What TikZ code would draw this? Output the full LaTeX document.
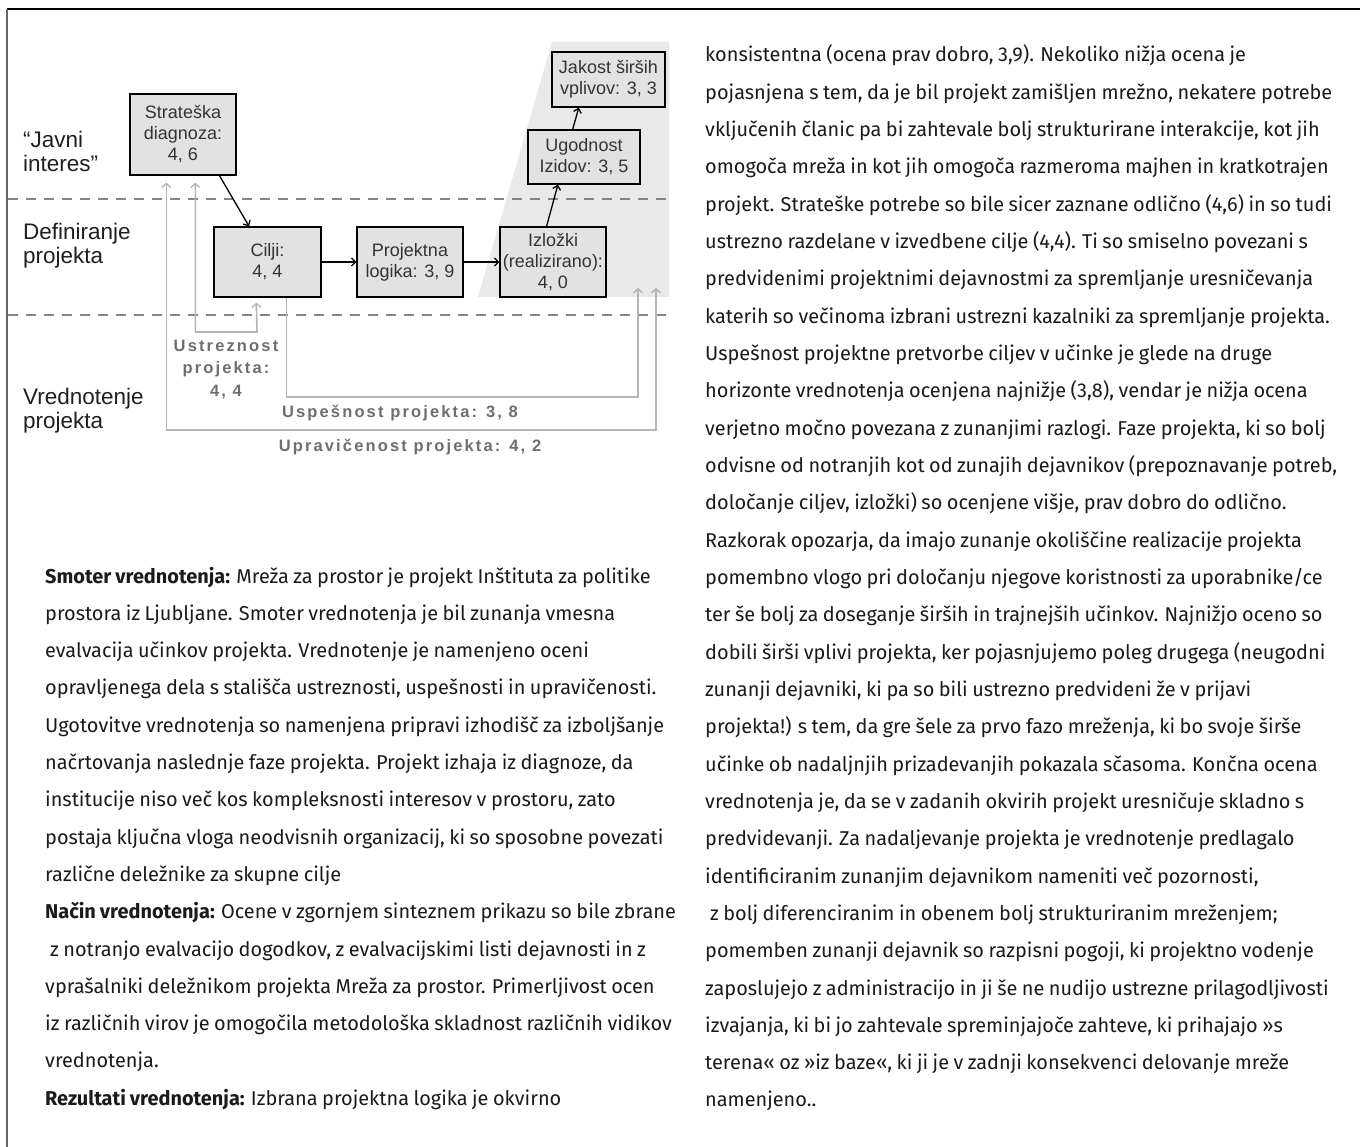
\documentclass[tikz,border=0pt]{standalone}
\usepackage{fontspec}
\usepackage{graphicx}
\setmainfont{Liberation Sans}
\newfontfamily\bodyfont[WordSpace=0.85]{Fira Sans}
\newfontfamily\trackfont[LetterSpace=13]{Liberation Sans}
\usetikzlibrary{arrows.meta,calc}

\definecolor{boxfill}{HTML}{E2E2E2}
\definecolor{zonefill}{HTML}{E9E9E9}
\definecolor{guide}{HTML}{858585}
\definecolor{bracket}{HTML}{B5B5B5}
\definecolor{labelgray}{HTML}{6E6E6E}
\definecolor{boxtext}{HTML}{333333}
\definecolor{bodyink}{HTML}{1A1A1A}

\tikzset{
  fbtip/.tip={Straight Barb[length=4pt,width=9pt,line width=1.4pt]},
  flowtip/.tip={Straight Barb[length=4pt,width=8pt,line width=1.3pt]},
  stage/.style={draw=black, line width=1.3pt, fill=boxfill, align=center,
    inner sep=0pt, text=boxtext, font=\fontsize{18}{21}\selectfont},
  flow/.style={-flowtip, line width=1.3pt, black},
  feedback/.style={line width=1.6pt, bracket},
  sidelabel/.style={anchor=west, align=left, inner sep=0pt, text=black!88,
    font=\fontsize{22.5}{24}\selectfont},
  scorelabel/.style={align=center, inner sep=0pt, text=labelgray,
    font=\trackfont\bfseries\fontsize{16.5}{22.5}\selectfont},
  bodytext/.style={anchor=base west, inner sep=0pt, text=bodyink,
    font=\bodyfont\fontsize{20}{24}\selectfont},
  guideline/.style={guide, line width=1.5pt, dash pattern=on 10pt off 8pt},
}

% horizontal set width of the running text, taken from eight full lines
\newsavebox\calibbox
\newdimen\calibsum
\newcommand\calib[1]{\sbox\calibbox{\bodyfont\fontsize{20}{24}\selectfont #1}%
  \global\advance\calibsum by \wd\calibbox}

% one line of the left and of the right text column
\newcommand\txtL[2]{\node[bodytext] (L#1) at (45,{583+37.3*#1})
  {\scalebox{\bodystretch}[1]{#2}};}
\newcommand\txtR[2]{\node[bodytext] (R#1) at (705,{62+37.32*#1})
  {\scalebox{\bodystretch}[1]{#2}};}

\begin{document}
\calibsum=0pt
\calib{konsistentna (ocena prav dobro, 3,9). Nekoliko nižja ocena je}%
\calib{pojasnjena s tem, da je bil projekt zamišljen mrežno, nekatere potrebe}%
\calib{vključenih članic pa bi zahtevale bolj strukturirane interakcije, kot jih}%
\calib{omogoča mreža in kot jih omogoča razmeroma majhen in kratkotrajen}%
\calib{projekt. Strateške potrebe so bile sicer zaznane odlično (4,6) in so tudi}%
\calib{ustrezno razdelane v izvedbene cilje (4,4). Ti so smiselno povezani s}%
\calib{predvidenimi projektnimi dejavnostmi za spremljanje uresničevanja}%
\calib{katerih so večinoma izbrani ustrezni kazalniki za spremljanje projekta.}%
\pgfmathsetmacro\bodystretch{4868/\the\calibsum}%
\begin{tikzpicture}[x=1pt,y=-1pt]
\useasboundingbox (0,0) rectangle (1360,1147);

% page frame
\draw[black, line width=1.5pt] (7,9) -- (1360,9);
\draw[black!60, line width=1.5pt] (7,9) -- (7,1147);

% shaded zone behind outputs and impacts
\fill[zonefill] (552,42) -- (669,42) -- (669,297) -- (478,297) -- cycle;

% level separators
\draw[guideline] (8,199) -- (670,199);
\draw[guideline] (8,315) -- (670,315);

% level labels
\node[sidelabel] (lvlA) at (23,151) {“Javni\\interes”};
\node[sidelabel] (lvlB) at (23,245.5) {Definiranje\\projekta};
\node[sidelabel] (lvlC) at (23,410.5) {Vrednotenje\\projekta};

% stages
\node[stage, minimum width=106pt, minimum height=81pt] (strat) at (183,134.5)
  {Strateška\\diagnoza:\\4, 6};
\node[stage, minimum width=107pt, minimum height=70pt] (cilji) at (267.5,262)
  {Cilji:\\4, 4};
\node[stage, minimum width=106pt, minimum height=70pt] (logika) at (410,262)
  {Projektna\\logika: 3, 9};
\node[stage, minimum width=106pt, minimum height=70pt] (izlozki) at (553,262)
  {Izložki\\(realizirano):\\4, 0};
\node[stage, minimum width=112pt, minimum height=54pt] (izidi) at (584,157)
  {Ugodnost\\Izidov: 3, 5};
\node[stage, minimum width=113pt, minimum height=55pt] (vplivi) at (608.5,79.5)
  {Jakost širših\\vplivov: 3, 3};

% main chain
\draw[flow] ($(strat.south west)!0.84!(strat.south east)$)
  -- ($(cilji.north west)!0.33!(cilji.north east)$);
\draw[flow] (cilji.east) -- (logika.west);
\draw[flow] (logika.east) -- (izlozki.west);
\draw[flow] ($(izlozki.north west)!0.44!(izlozki.north east)$)
  -- ($(izidi.south west)!0.27!(izidi.south east)$);
\draw[flow] ($(izidi.north west)!0.40!(izidi.north east)$)
  -- ($(vplivi.south west)!0.24!(vplivi.south east)$);

% evaluation brackets
\coordinate (uspEnd) at (638,288);
\coordinate (uprEnd) at (656,288);
\draw[feedback, fbtip-fbtip] ($(strat.south west)+(66,7)$) |- (257,332)
  -- ($(cilji.south west)+(43,5)$);
\draw[feedback, -fbtip] ($(cilji.south west)+(73,0)$) |- (638,397) -- (uspEnd);
\draw[feedback, fbtip-fbtip] ($(strat.south west)+(37,7)$) |- (656,430) -- (uprEnd);

\node[scorelabel] (ustr) at (226,369.5) {Ustreznost\\projekta:\\4, 4};
\node[scorelabel] (usp) at (400,413) {Uspešnost projekta: 3, 8};
\node[scorelabel] (upr) at (410,447) {Upravičenost projekta: 4, 2};

% left text column
\txtL{0}{\textbf{Smoter vrednotenja:} Mreža za prostor je projekt Inštituta za politike}
\txtL{1}{prostora iz Ljubljane. Smoter vrednotenja je bil zunanja vmesna}
\txtL{2}{evalvacija učinkov projekta. Vrednotenje je namenjeno oceni}
\txtL{3}{opravljenega dela s stališča ustreznosti, uspešnosti in upravičenosti.}
\txtL{4}{Ugotovitve vrednotenja so namenjena pripravi izhodišč za izboljšanje}
\txtL{5}{načrtovanja naslednje faze projekta. Projekt izhaja iz diagnoze, da}
\txtL{6}{institucije niso več kos kompleksnosti interesov v prostoru, zato}
\txtL{7}{postaja ključna vloga neodvisnih organizacij, ki so sposobne povezati}
\txtL{8}{različne deležnike za skupne cilje}
\txtL{9}{\textbf{Način vrednotenja:} Ocene v zgornjem sinteznem prikazu so bile zbrane}
\txtL{10}{\hspace{5pt}z notranjo evalvacijo dogodkov, z evalvacijskimi listi dejavnosti in z}
\txtL{11}{vprašalniki deležnikom projekta Mreža za prostor. Primerljivost ocen}
\txtL{12}{iz različnih virov je omogočila metodološka skladnost različnih vidikov}
\txtL{13}{vrednotenja.}
\txtL{14}{\textbf{Rezultati vrednotenja:} Izbrana projektna logika je okvirno}

% right text column
\txtR{0}{konsistentna (ocena prav dobro, 3,9). Nekoliko nižja ocena je}
\txtR{1}{pojasnjena s tem, da je bil projekt zamišljen mrežno, nekatere potrebe}
\txtR{2}{vključenih članic pa bi zahtevale bolj strukturirane interakcije, kot jih}
\txtR{3}{omogoča mreža in kot jih omogoča razmeroma majhen in kratkotrajen}
\txtR{4}{projekt. Strateške potrebe so bile sicer zaznane odlično (4,6) in so tudi}
\txtR{5}{ustrezno razdelane v izvedbene cilje (4,4). Ti so smiselno povezani s}
\txtR{6}{predvidenimi projektnimi dejavnostmi za spremljanje uresničevanja}
\txtR{7}{katerih so večinoma izbrani ustrezni kazalniki za spremljanje projekta.}
\txtR{8}{Uspešnost projektne pretvorbe ciljev v učinke je glede na druge}
\txtR{9}{horizonte vrednotenja ocenjena najnižje (3,8), vendar je nižja ocena}
\txtR{10}{verjetno močno povezana z zunanjimi razlogi. Faze projekta, ki so bolj}
\txtR{11}{odvisne od notranjih kot od zunajih dejavnikov (prepoznavanje potreb,}
\txtR{12}{določanje ciljev, izložki) so ocenjene višje, prav dobro do odlično.}
\txtR{13}{Razkorak opozarja, da imajo zunanje okoliščine realizacije projekta}
\txtR{14}{pomembno vlogo pri določanju njegove koristnosti za uporabnike/ce}
\txtR{15}{ter še bolj za doseganje širših in trajnejših učinkov. Najnižjo oceno so}
\txtR{16}{dobili širši vplivi projekta, ker pojasnjujemo poleg drugega (neugodni}
\txtR{17}{zunanji dejavniki, ki pa so bili ustrezno predvideni že v prijavi}
\txtR{18}{projekta!) s tem, da gre šele za prvo fazo mreženja, ki bo svoje širše}
\txtR{19}{učinke ob nadaljnjih prizadevanjih pokazala sčasoma. Končna ocena}
\txtR{20}{vrednotenja je, da se v zadanih okvirih projekt uresničuje skladno s}
\txtR{21}{predvidevanji. Za nadaljevanje projekta je vrednotenje predlagalo}
\txtR{22}{identificiranim zunanjim dejavnikom nameniti več pozornosti,}
\txtR{23}{\hspace{5pt}z bolj diferenciranim in obenem bolj strukturiranim mreženjem;}
\txtR{24}{pomemben zunanji dejavnik so razpisni pogoji, ki projektno vodenje}
\txtR{25}{zaposlujejo z administracijo in ji še ne nudijo ustrezne prilagodljivosti}
\txtR{26}{izvajanja, ki bi jo zahtevale spreminjajoče zahteve, ki prihajajo »s}
\txtR{27}{terena« oz »iz baze«, ki ji je v zadnji konsekvenci delovanje mreže}
\txtR{28}{namenjeno..}
\end{tikzpicture}
\end{document}
